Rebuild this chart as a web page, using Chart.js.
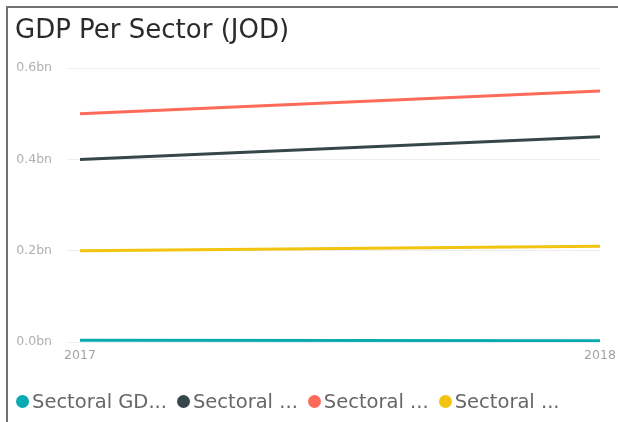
<!DOCTYPE html>
<html>
<head>
<meta charset="utf-8">
<script src="https://cdn.jsdelivr.net/npm/chart.js@4.4.0/dist/chart.umd.min.js"></script>
<style>
    html, body { margin: 0; padding: 0; background: #fff; }
    body { width: 618px; height: 422px; overflow: hidden; position: relative; }
    .frame {
        position: absolute; left: 6px; top: 6px; width: 612px; height: 416px;
        border-top: 2px solid #717171; border-left: 2px solid #717171;
        box-sizing: border-box;
    }
    .frame canvas { position: absolute; left: 0; top: 0; }
    .legend {
        position: absolute; left: 8px; top: 382px;
        display: flex; align-items: center; white-space: nowrap;
        font-family: 'DejaVu Sans', sans-serif; font-size: 19.5px; color: #666;
    }
    .legend-item { display: flex; align-items: center; margin-right: 10px; }
    .legend-color {
        width: 13px; height: 13px; border-radius: 50%;
        display: inline-block; margin-right: 3px;
    }
</style>
</head>
<body>
<div class="frame">
    <canvas id="gdpChart" width="610" height="414"></canvas>
    <div class="legend" id="gdpLegend"></div>
</div>
<script>
    /** 数据 */
    const years = ['2017', '2018'];
    const seriesNames = ['Sectoral GD...', 'Sectoral ...', 'Sectoral ...', 'Sectoral ...'];
    const seriesColors = ['#06aab0', '#374649', '#fd6a5a', '#f2c40f'];
    const sectorA = [0.004, 0.003];
    const sectorB = [0.40, 0.45];
    const sectorC = [0.50, 0.55];
    const sectorD = [0.20, 0.21];
    const yTicks = [0, 0.2, 0.4, 0.6];

    const FONT = "'DejaVu Sans', sans-serif";

    const seriesValues = [sectorA, sectorB, sectorC, sectorD];

    const ctx = document.getElementById('gdpChart');
    new Chart(ctx, {
        type: 'line',
        data: {
            labels: years,
            datasets: seriesValues.map((values, i) => ({
                label: seriesNames[i],
                data: values,
                borderColor: seriesColors[i],
                backgroundColor: seriesColors[i],
                borderWidth: 3,
                pointRadius: 0,
                tension: 0,
                fill: false
            }))
        },
        options: {
            responsive: false,
            animation: false,
            layout: {
                padding: { left: 7, right: 18, top: 0, bottom: 53 }
            },
            scales: {
                x: {
                    // 最后一个标签不再挤压绘图区
                    afterFit(axis) {
                        axis.paddingRight = 0;
                        axis.paddingLeft = 0;
                    },
                    grid: { display: false, drawTicks: false },
                    border: { display: false },
                    ticks: {
                        color: '#a3a3a3',
                        padding: 6,
                        maxRotation: 0,
                        font: { family: FONT, size: 12.5 }
                    }
                },
                y: {
                    min: 0,
                    max: 0.6,
                    afterBuildTicks(axis) {
                        axis.ticks = yTicks.map(v => ({ value: v }));
                    },
                    // 固定轴宽度，使绘图区左边与原图一致
                    afterFit(axis) {
                        axis.width = 65;
                    },
                    grid: {
                        color: '#ededed',
                        lineWidth: 1,
                        tickLength: 13
                    },
                    border: { display: false },
                    ticks: {
                        color: '#b0b0b0',
                        padding: 15,
                        font: { family: FONT, size: 12.5 },
                        callback: v => v.toFixed(1) + 'bn'
                    }
                }
            },
            plugins: {
                title: {
                    display: true,
                    text: 'GDP Per Sector (JOD)',
                    align: 'start',
                    color: '#2b2b2b',
                    padding: { top: 8, bottom: 21 },
                    font: { family: FONT, size: 26, weight: 'normal' }
                },
                legend: { display: false },
                tooltip: { enabled: false }
            }
        }
    });

    // 自定义图例
    document.getElementById('gdpLegend').innerHTML = seriesNames.map((name, i) => `
        <div class="legend-item">
            <span class="legend-color" style="background: ${seriesColors[i]}"></span>
            <span>${name}</span>
        </div>
    `).join('');
</script>
</body>
</html>
